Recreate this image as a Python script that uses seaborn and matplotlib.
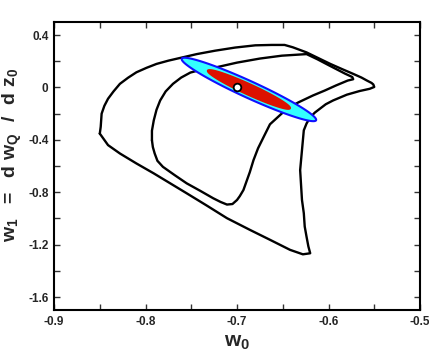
import numpy as np
import matplotlib
matplotlib.use('Agg')
import matplotlib.pyplot as plt
import seaborn as sns
from matplotlib.ticker import MultipleLocator, FuncFormatter

# outer contour (w0, w1), closed
outer_w0 = [-0.850, -0.849, -0.848, -0.845, -0.841, -0.835, -0.828, -0.819, -0.810, -0.799,
            -0.788, -0.775, -0.762, -0.744, -0.724, -0.702, -0.680, -0.662, -0.648,
            -0.639, -0.624, -0.611, -0.598, -0.585, -0.573, -0.564, -0.558, -0.553, -0.551,
            -0.550, -0.555, -0.566, -0.580, -0.595, -0.603, -0.609, -0.615, -0.620, -0.624,
            -0.627, -0.629, -0.631, -0.630, -0.629, -0.627, -0.626, -0.624, -0.622, -0.620,
            -0.628, -0.642, -0.664, -0.686, -0.711, -0.733, -0.755, -0.773, -0.791, -0.810,
            -0.828, -0.841, -0.850]
outer_w1 = [-0.352, -0.300, -0.200, -0.140, -0.086, -0.030, 0.028, 0.075, 0.116, 0.150,
            0.180, 0.205, 0.226, 0.255, 0.281, 0.305, 0.322, 0.325, 0.325,
            0.307, 0.268, 0.224, 0.180, 0.140, 0.104, 0.076, 0.053, 0.035, 0.023,
            0.004, -0.010, -0.027, -0.055, -0.099, -0.128, -0.160, -0.192, -0.228, -0.275,
            -0.327, -0.479, -0.631, -0.745, -0.859, -0.960, -1.062, -1.140, -1.214, -1.266,
            -1.274, -1.240, -1.163, -1.087, -0.998, -0.902, -0.808, -0.732, -0.656, -0.580,
            -0.504, -0.440, -0.352]

# inner contour (w0, w1), closed
inner_w0 = [-0.793, -0.793, -0.791, -0.788, -0.784, -0.778, -0.770, -0.761, -0.751, -0.738,
            -0.724, -0.700, -0.675, -0.651, -0.624, -0.612, -0.600, -0.582, -0.574, -0.573,
            -0.579, -0.592, -0.604, -0.617, -0.633, -0.643, -0.651, -0.664, -0.670, -0.677,
            -0.682, -0.686, -0.693, -0.697, -0.700, -0.705, -0.711, -0.718, -0.726, -0.740,
            -0.755, -0.768, -0.781, -0.787, -0.790, -0.792, -0.793]
inner_w1 = [-0.403, -0.330, -0.251, -0.170, -0.099, -0.030, 0.028, 0.076, 0.114, 0.138,
            0.152, 0.190, 0.221, 0.243, 0.255, 0.215, 0.171, 0.106, 0.080, 0.063,
            0.053, 0.015, -0.023, -0.061, -0.114, -0.152, -0.198, -0.281, -0.365, -0.464,
            -0.555, -0.646, -0.783, -0.830, -0.859, -0.890, -0.894, -0.874, -0.846, -0.790,
            -0.732, -0.670, -0.606, -0.560, -0.504, -0.455, -0.403]

# fiducial model and Fisher ellipses
fid_w0, fid_w1 = -0.70, 0.0
fit_w0, fit_w1 = -0.687, -0.015
sigma_w0, sigma_w1, rho = 0.0296, 0.0975, -0.957
dchi2 = [6.17, 2.30]           # 2 sigma, 1 sigma
fill_colors = ['#33ffff', '#dd1100']
edge_colors = ['#1010ff', '#dd1100']

sns.set_theme(style='ticks')
plt.rcParams['font.family'] = ['Liberation Sans', 'DejaVu Sans']
plt.rcParams['font.weight'] = 'bold'
plt.rcParams['mathtext.fontset'] = 'custom'
plt.rcParams['mathtext.rm'] = 'Liberation Sans:bold'
plt.rcParams['mathtext.it'] = 'Liberation Sans:bold'
plt.rcParams['mathtext.bf'] = 'Liberation Sans:bold'

fig = plt.figure(figsize=(4.29, 3.61), dpi=100)
ax = fig.add_axes([0.126, 0.141, 0.853, 0.798])

sns.lineplot(x=outer_w0, y=outer_w1, sort=False, estimator=None, color='black', lw=1.7, ax=ax)
sns.lineplot(x=inner_w0, y=inner_w1, sort=False, estimator=None, color='black', lw=1.7, ax=ax)

cov = np.array([[sigma_w0**2, rho * sigma_w0 * sigma_w1],
                [rho * sigma_w0 * sigma_w1, sigma_w1**2]])
vals, vecs = np.linalg.eigh(cov)
t = np.linspace(0, 2 * np.pi, 300)
for d, fc, ec in zip(dchi2, fill_colors, edge_colors):
    pts = vecs @ (np.sqrt(vals * d)[:, None] * np.vstack([np.cos(t), np.sin(t)]))
    ax.fill(fit_w0 + pts[0], fit_w1 + pts[1], facecolor=fc, edgecolor=ec, lw=1.5, zorder=3)

sns.scatterplot(x=[fid_w0], y=[fid_w1], s=30, color='white', edgecolor='black',
                linewidth=1.3, zorder=5, ax=ax)

ax.set_xlim(-0.9, -0.5)
ax.set_ylim(-1.7, 0.5)
ax.xaxis.set_major_locator(MultipleLocator(0.1))
ax.xaxis.set_minor_locator(MultipleLocator(0.05))
ax.yaxis.set_major_locator(MultipleLocator(0.4))
ax.yaxis.set_minor_locator(MultipleLocator(0.2))
ax.xaxis.set_major_formatter(FuncFormatter(lambda v, p: f'{v:g}'))
ax.yaxis.set_major_formatter(FuncFormatter(lambda v, p: f'{v:g}'))
ax.tick_params(which='both', direction='in', top=True, right=True, length=4, width=1,
               color='#333333', labelsize=8.5, pad=4)
for s in ax.spines.values():
    s.set_linewidth(1.5)
    s.set_color('black')

ax.set_xlabel(r'$\mathbf{w_0}$', fontsize=15, labelpad=4)
ax.set_ylabel(r'$\mathbf{w_1\ \ =\ \ d\ w_Q\ \ /\ \ d\ z_0}$', fontsize=14)
ax.yaxis.set_label_coords(-0.082, 0.54)

fig.savefig('out.png', dpi=100)
